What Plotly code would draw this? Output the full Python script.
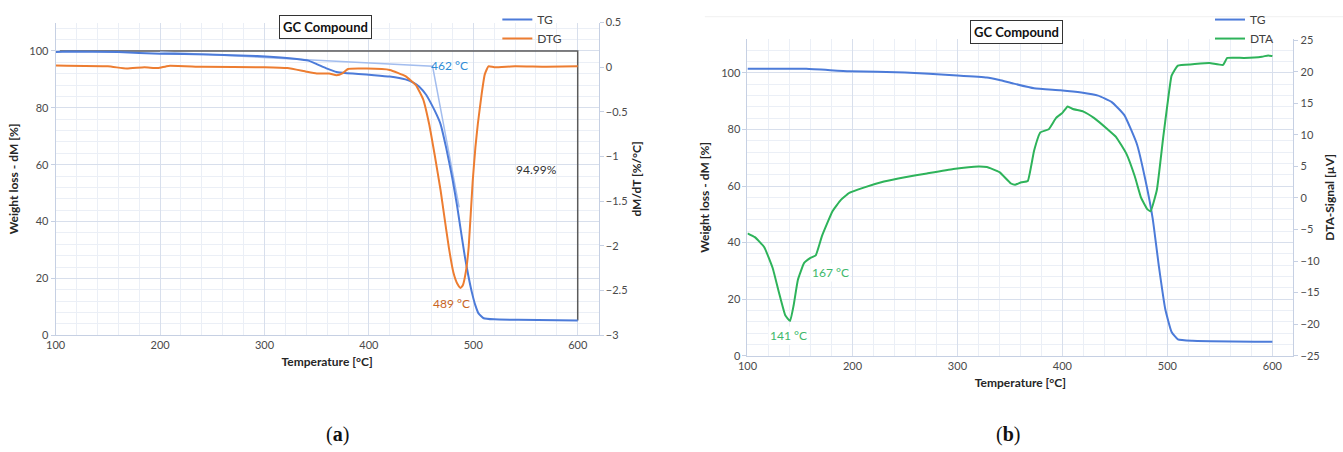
import plotly.graph_objects as go

# ---------------- Panel (a) data ----------------
temp_a_tg = [100, 110, 160, 200, 246, 293, 331, 342, 350, 360, 369, 379, 390, 405, 420, 435, 443,
             448, 455, 461, 465, 468.7, 474, 479.8, 484.5, 488, 492, 495.5, 498.7, 502, 505, 510, 520, 543, 600]
tg_a = [99.6, 99.8, 99.6, 99.0, 98.8, 98.2, 97.2, 96.6, 95.4, 93.8, 92.6, 92.2, 91.9, 91.5, 91.0, 90.0, 88.8,
        87.5, 84.5, 80.5, 77.5, 74.2, 66.0, 55.5, 45.5, 37.0, 27.5, 20.5, 15.0, 10.5, 7.7, 6.0, 5.6, 5.45, 5.2]

temp_a_dtg = [100, 150, 168, 185, 198, 208, 240, 300, 322, 340, 350, 362, 369, 375, 380, 398, 420, 435,
              445, 452, 457.6, 463, 468.7, 472, 476.6, 481, 485, 487.7, 490, 493, 495.6, 499.4, 502,
              504.4, 508, 511, 514.5, 520, 540, 570, 600]
dtg_a = [0.02, 0.01, -0.015, 0.0, -0.01, 0.015, 0.005, 0.0, -0.01, -0.05, -0.07, -0.07, -0.09, -0.065,
         -0.02, -0.015, -0.03, -0.1, -0.2, -0.36, -0.63, -0.98, -1.38, -1.65, -2.02, -2.3, -2.43, -2.47,
         -2.44, -2.28, -2.01, -1.28, -0.9, -0.63, -0.3, -0.08, 0.01, 0.0, 0.01, 0.005, 0.01]

onset_x = [200, 461, 486.5]
onset_y = [99.6, 94.6, 45.0]
bracket_x = [104, 600, 600]
bracket_y = [100, 100, 5.2]

# ---------------- Panel (b) data ----------------
temp_b_tg = [100, 156, 197, 250, 296, 328, 340, 353, 373, 398, 418, 434, 447, 459, 471, 479, 486,
             492, 498, 504, 510, 524, 600]
tg_b = [101.5, 101.5, 100.6, 100.2, 99.2, 98.4, 97.5, 96.3, 94.6, 93.9, 93.1, 92.0, 89.7, 85.1, 74.8,
        62.2, 48.5, 31.3, 16.4, 8.4, 5.8, 5.3, 4.9]

temp_b_dta = [100, 107, 116, 124, 130, 136, 140.6, 144, 148, 154, 160, 165, 171, 181, 189, 197, 210,
              230, 250, 271, 296, 320, 328, 340, 351, 355, 361, 367, 373, 379, 387, 394, 400, 405,
              410, 420, 430, 443, 451, 461, 469, 475, 481, 484, 490, 496, 500, 504, 510, 524, 540,
              553, 557, 573, 590, 596, 600]
dta_b = [-5.6, -6.2, -7.8, -11.1, -15.0, -18.6, -19.5, -17.0, -13.0, -10.3, -9.5, -9.1, -6.0, -2.1,
         -0.3, 0.8, 1.6, 2.6, 3.3, 3.9, 4.6, 5.0, 4.9, 4.1, 2.3, 2.1, 2.5, 2.7, 7.5, 10.4, 10.9, 12.7,
         13.5, 14.5, 14.1, 13.7, 12.7, 10.9, 9.7, 7.0, 3.4, 0.0, -1.8, -2.1, 1.3, 9.6, 14.8, 19.4,
         21.0, 21.2, 21.4, 21.1, 22.2, 22.2, 22.4, 22.6, 22.5]

# ---------------- styling ----------------
BLUE = "#4C7BD9"
ORANGE = "#ED7D31"
GREEN = "#2EB35A"
LIGHT_BLUE = "#A3BDEE"
GRID_MAJ = "#d8dfec"
GRID_MIN = "#ebeff6"
AXLINE = "#c6d0e3"
TICKC = "#4a4a4a"
FONT = "Lato"

fig = go.Figure()

# Panel a
fig.add_trace(go.Scatter(x=bracket_x, y=bracket_y, mode="lines", line=dict(color="#5a5a5a", width=1.5),
                         xaxis="x", yaxis="y", showlegend=False, hoverinfo="skip"))
fig.add_trace(go.Scatter(x=onset_x, y=onset_y, mode="lines", line=dict(color=LIGHT_BLUE, width=1.5),
                         xaxis="x", yaxis="y", showlegend=False, hoverinfo="skip"))
fig.add_trace(go.Scatter(x=temp_a_tg, y=tg_a, mode="lines", name="TG",
                         line=dict(color=BLUE, width=2, shape="spline", smoothing=0.4),
                         xaxis="x", yaxis="y", legend="legend"))
fig.add_trace(go.Scatter(x=temp_a_dtg, y=dtg_a, mode="lines", name="DTG",
                         line=dict(color=ORANGE, width=2, shape="spline", smoothing=0.4),
                         xaxis="x", yaxis="y2", legend="legend"))

# Panel b
fig.add_trace(go.Scatter(x=temp_b_tg, y=tg_b, mode="lines", name="TG",
                         line=dict(color=BLUE, width=2, shape="spline", smoothing=0.4),
                         xaxis="x2", yaxis="y3", legend="legend2"))
fig.add_trace(go.Scatter(x=temp_b_dta, y=dta_b, mode="lines", name="DTA",
                         line=dict(color=GREEN, width=2, shape="spline", smoothing=0.35),
                         xaxis="x2", yaxis="y4", legend="legend2"))

tickfont = dict(family=FONT, size=11, color=TICKC)
titlefont = dict(family=FONT, size=12, color="#262626", weight="bold")


def xax(domain, anchor, rng):
    return dict(domain=domain, anchor=anchor, range=rng, tickmode="linear", tick0=100, dtick=100,
                showgrid=True, gridcolor=GRID_MAJ, gridwidth=1,
                minor=dict(dtick=20, tick0=100, showgrid=True, gridcolor=GRID_MIN, gridwidth=1),
                showline=True, linecolor=AXLINE, linewidth=1, ticks="", tickfont=tickfont,
                zeroline=False, title=dict(text="Temperature [°C]", font=titlefont, standoff=7))


def yleft(domain, anchor, rng, title):
    return dict(domain=domain, anchor=anchor, range=rng, tickmode="linear", tick0=0, dtick=20,
                showgrid=True, gridcolor=GRID_MAJ, gridwidth=1,
                minor=dict(dtick=4, tick0=0, showgrid=True, gridcolor=GRID_MIN, gridwidth=1,
                           ticks=""),
                showline=True, linecolor=AXLINE, linewidth=1, ticks="outside", ticklen=4,
                tickcolor=AXLINE, tickfont=tickfont, zeroline=False,
                title=dict(text=title, font=titlefont, standoff=8))


def yright(overlay, anchor, rng, dtick, title):
    return dict(overlaying=overlay, anchor=anchor, side="right", range=rng, tickmode="linear",
                tick0=0, dtick=dtick, showgrid=False, showline=True, linecolor=AXLINE, linewidth=1,
                ticks="outside", ticklen=4, tickcolor=AXLINE, tickfont=tickfont, zeroline=False,
                title=dict(text=title, font=titlefont, standoff=6))


W, H = 1343, 452
a_x = [46 / W, 593 / W]
a_y = [(H - 338) / H, (H - 16) / H]
b_x = [743 / W, 1293 / W]
b_y = [(H - 359) / H, (H - 33) / H]

legend_common = dict(xanchor="left", yanchor="top", bgcolor="rgba(0,0,0,0)",
                     font=dict(family=FONT, size=12, color="#404040"),
                     tracegroupgap=0, itemwidth=30)

fig.update_layout(
    width=W, height=H, margin=dict(l=0, r=0, t=0, b=0),
    paper_bgcolor="white", plot_bgcolor="white",
    font=dict(family=FONT, color=TICKC),
    xaxis=xax(a_x, "y", [100, 620]),
    yaxis=yleft(a_y, "x", [0, 110], "Weight loss - dM [%]"),
    yaxis2=yright("y", "x", [-3, 0.5], 0.5, "dM/dT [%/°C]"),
    xaxis2=xax(b_x, "y3", [100, 620]),
    yaxis3=yleft(b_y, "x2", [0, 112], "Weight loss - dM [%]"),
    yaxis4=yright("y3", "x2", [-25, 25.2], 5, "DTA-Signal [µV]"),
    legend=dict(x=491 / W, y=(H + 2) / H, **legend_common),
    legend2=dict(x=1209 / W, y=(H + 2) / H, **legend_common),
    showlegend=True,
)

ann = []
# titles
for cx, cy in [(318, 20.5), (1014, 25.5)]:
    ann.append(dict(text="<b>GC Compound</b>", x=cx / W, y=(H - cy) / H, xref="paper", yref="paper",
                    xanchor="center", yanchor="middle",
                    showarrow=False, font=dict(family=FONT, size=13, color="#111111"),
                    bordercolor="#333333", borderwidth=1, borderpad=3, bgcolor="white"))
# panel a labels
ann.append(dict(text="462 °C", x=458, y=95, xref="x", yref="y", xanchor="left", yanchor="middle",
                showarrow=False, font=dict(family=FONT, size=12, color="#2F8BD6")))
ann.append(dict(text="489 °C", x=479, y=11.1, xref="x", yref="y", xanchor="center", yanchor="middle",
                showarrow=False, font=dict(family=FONT, size=12, color="#C8641E")))
ann.append(dict(text="94.99%", x=561, y=58.3, xref="x", yref="y", xanchor="center", yanchor="middle",
                showarrow=False, font=dict(family=FONT, size=12, color="#333333")))
# panel b labels
ann.append(dict(text="167 °C", x=179, y=29.4, xref="x2", yref="y3", xanchor="center", yanchor="middle",
                showarrow=False, bgcolor="white", font=dict(family=FONT, size=12, color="#3DB86B")))
ann.append(dict(text="141 °C", x=139, y=7.3, xref="x2", yref="y3", xanchor="center", yanchor="middle",
                showarrow=False, bgcolor="white", font=dict(family=FONT, size=12, color="#3DB86B")))
# captions
for cx, lab in [(330, "a"), (1005, "b")]:
    ann.append(dict(text="(<b>" + lab + "</b>)", x=cx / W, y=(H - 440) / H, xref="paper", yref="paper",
                    xanchor="center", yanchor="middle",
                    showarrow=False, font=dict(family="Liberation Serif", size=20, color="#111111")))
fig.update_layout(annotations=ann)

fig.add_shape(type="line", xref="paper", yref="paper", x0=700 / W, x1=1.0, y0=(H - 10) / H,
              y1=(H - 10) / H, line=dict(color="#f0f0f0", width=1))

fig.write_html("out.html")
